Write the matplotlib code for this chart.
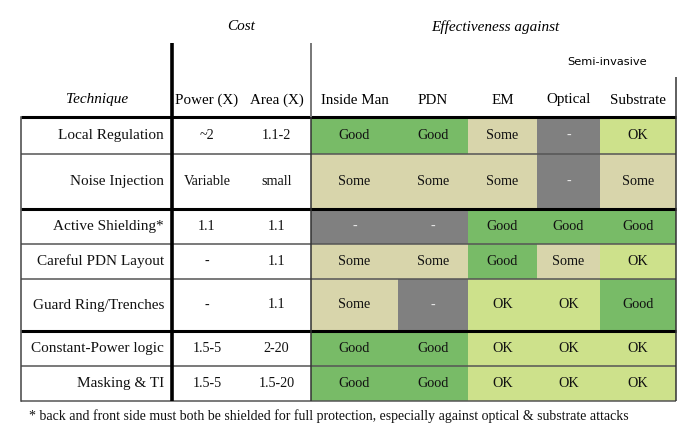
import matplotlib.pyplot as plt
from matplotlib.patches import Rectangle

# table content
techniques = ['Local Regulation', 'Noise Injection', 'Active Shielding*',
              'Careful PDN Layout', 'Guard Ring/Trenches',
              'Constant-Power logic', 'Masking & TI']
power = ['~2', 'Variable', '1.1', '-', '-', '1.5-5', '1.5-5']
area = ['1.1-2', 'small', '1.1', '1.1', '1.1', '2-20', '1.5-20']
attacks = ['Inside Man', 'PDN', 'EM', 'Optical', 'Substrate']
ratings = [
    ['Good', 'Good', 'Some', '-', 'OK'],
    ['Some', 'Some', 'Some', '-', 'Some'],
    ['-', '-', 'Good', 'Good', 'Good'],
    ['Some', 'Some', 'Good', 'Some', 'OK'],
    ['Some', '-', 'OK', 'OK', 'Good'],
    ['Good', 'Good', 'OK', 'OK', 'OK'],
    ['Good', 'Good', 'OK', 'OK', 'OK'],
]
footnote = ('* back and front side must both be shielded for full protection, '
            'especially against optical & substrate attacks')

colors = {'Good': '#78bb67', 'Some': '#d8d5ab', '-': '#808080', 'OK': '#cde18b'}

# layout (pixels)
left, tech_right, power_right, cost_right = 21, 172, 242, 311
att_edges = [311, 398, 468, 537, 600, 676]
row_edges = [117, 154, 209, 244, 279, 331, 366, 401]
thick_rows = [117, 209, 331]

serif = 'Liberation Serif'

fig = plt.figure(figsize=(6.9, 4.48), dpi=100)
ax = fig.add_axes([0, 0, 1, 1])
ax.set_xlim(0, 690)
ax.set_ylim(448, 0)
ax.axis('off')

# colored rating cells
for i, row in enumerate(ratings):
    y0, y1 = row_edges[i], row_edges[i + 1]
    for j, r in enumerate(row):
        x0, x1 = att_edges[j], att_edges[j + 1]
        ax.add_patch(Rectangle((x0, y0), x1 - x0, y1 - y0,
                               facecolor=colors[r], edgecolor='none'))
        if r == '-':
            ax.text((x0 + x1) / 2, (y0 + y1) / 2, '-', color='#e8e8e8',
                    ha='center', va='center', fontsize=10.2, family=serif)
        else:
            ax.text((x0 + x1) / 2, (y0 + y1) / 2, r, color='#111111',
                    ha='center', va='center', fontsize=10.2, family=serif)

# technique and cost columns
for i, name in enumerate(techniques):
    yc = (row_edges[i] + row_edges[i + 1]) / 2
    ax.text(tech_right - 8, yc, name, ha='right', va='center',
            fontsize=11, family=serif, color='#111111')
    ax.text((tech_right + power_right) / 2, yc, power[i], ha='center',
            va='center', fontsize=10.2, family=serif, color='#111111')
    ax.text((power_right + cost_right) / 2, yc, area[i], ha='center',
            va='center', fontsize=10.2, family=serif, color='#111111')

# headers
ax.text(97, 100, 'Technique', ha='center', va='center', fontsize=11,
        family=serif, style='italic')
ax.text((tech_right + power_right) / 2, 100, 'Power (X)', ha='center',
        va='center', fontsize=10.8, family=serif)
ax.text((power_right + cost_right) / 2, 100, 'Area (X)', ha='center',
        va='center', fontsize=10.8, family=serif)
for j, a in enumerate(attacks):
    ax.text((att_edges[j] + att_edges[j + 1]) / 2, 100, a, ha='center',
            va='center', fontsize=10.8, family=serif)
ax.text((tech_right + cost_right) / 2, 27, 'Cost', ha='center', va='center',
        fontsize=11, family=serif, style='italic')
ax.text(495, 27, 'Effectiveness against', ha='center', va='center',
        fontsize=11, family=serif, style='italic')
ax.text(607, 62, 'Semi-invasive', ha='center', va='center', fontsize=8.2,
        family='DejaVu Sans')

# grid lines
for y in row_edges:
    if y in thick_rows:
        ax.plot([left, att_edges[-1]], [y, y], color='black', lw=2.2,
                solid_capstyle='butt')
    else:
        ax.plot([left, att_edges[-1]], [y, y], color='#555555', lw=1.1,
                solid_capstyle='butt')
ax.plot([left, left], [row_edges[0], row_edges[-1]], color='#444444', lw=1.1)
ax.plot([tech_right, tech_right], [43, row_edges[-1]], color='black', lw=2.6,
        solid_capstyle='butt')
ax.plot([cost_right, cost_right], [43, row_edges[0]], color='#777777', lw=1.4,
        solid_capstyle='butt')
ax.plot([cost_right, cost_right], [row_edges[0], row_edges[-1]],
        color='#333333', lw=1.1, solid_capstyle='butt')
ax.plot([att_edges[-1], att_edges[-1]], [77, row_edges[-1]], color='#333333',
        lw=1.1, solid_capstyle='butt')

ax.text(29, 416, footnote, ha='left', va='center', fontsize=10.0,
        family=serif, color='#111111')

fig.savefig('out.png', dpi=100)
